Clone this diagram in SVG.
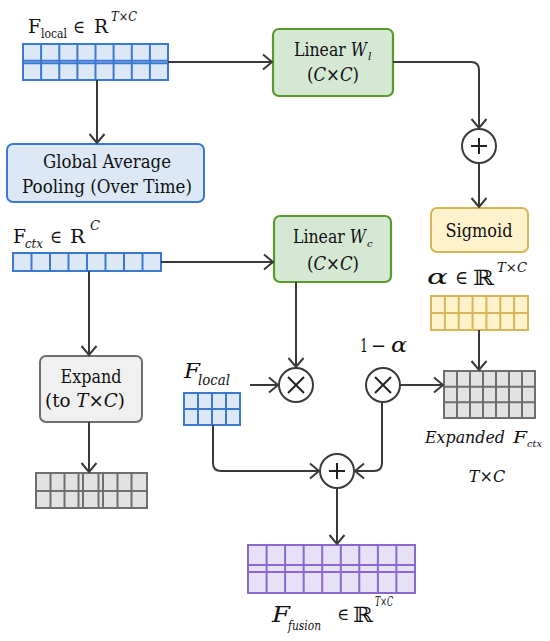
<svg xmlns="http://www.w3.org/2000/svg" width="550" height="641" viewBox="0 0 550 641" font-family="'DejaVu Serif', serif">
<style>
text{fill:#111;}
.it{font-style:italic;}
.lbl{font-size:18px;}
.con{fill:none;stroke:#3a3a3a;stroke-width:2;}
.op{fill:#fff;stroke:#3a3a3a;stroke-width:2;}
.opl{stroke:#222;stroke-width:2;fill:none;}
.blue{fill:#dce8f6;stroke:#3a78d2;stroke-width:2;}
.bluel{stroke:#3a78d2;stroke-width:2;fill:none;}
.green{fill:#d5e8d4;stroke:#5a9a2c;stroke-width:2.2;}
.yel{fill:#fff2cc;stroke:#d6b656;stroke-width:2;}
.yell{stroke:#d6b656;stroke-width:2;fill:none;}
.gray{fill:#e2e2e2;stroke:#6e6e6e;stroke-width:2;}
.grayl{stroke:#6e6e6e;stroke-width:2;fill:none;}
.gbox{fill:#f0f0f0;stroke:#6e6e6e;stroke-width:2;}
.pur{fill:#e7e0f7;stroke:#8a68d0;stroke-width:2;}
.purl{stroke:#8a68d0;stroke-width:2;fill:none;}
</style>
<defs>
<marker id="arr" markerUnits="userSpaceOnUse" markerWidth="14" markerHeight="18" refX="11" refY="9" orient="auto">
<path d="M2,1.5 L11,9 L2,16.5" fill="none" stroke="#3a3a3a" stroke-width="2"/>
</marker>
</defs>

<g id="flocal-input">
<text x="28" y="33" font-size="18" textLength="13" lengthAdjust="spacingAndGlyphs">F</text>
<text x="41" y="38" font-size="12" textLength="26" lengthAdjust="spacingAndGlyphs">local</text>
<text x="73" y="33" font-size="18" textLength="12" lengthAdjust="spacingAndGlyphs">∈</text>
<text x="94" y="33" font-size="18" textLength="14" lengthAdjust="spacingAndGlyphs">R</text>
<text x="111" y="21" font-size="12" class="it" textLength="26" lengthAdjust="spacingAndGlyphs">T×C</text>
<rect class="blue" x="23" y="44" width="145" height="36"/>
<path class="bluel" d="M41.1,44V80M59.3,44V80M77.4,44V80M95.5,44V80M113.6,44V80M131.8,44V80M149.9,44V80M23,60.7H168M23,63.3H168"/>
</g>

<g id="gap">
<rect class="blue" x="7" y="144" width="197" height="58" rx="6"/>
<text class="lbl" x="107" y="168" text-anchor="middle" textLength="128" lengthAdjust="spacingAndGlyphs">Global Average</text>
<text class="lbl" x="107" y="193" text-anchor="middle" textLength="170" lengthAdjust="spacingAndGlyphs">Pooling (Over Time)</text>
</g>

<g id="linear-wl">
<rect class="green" x="273" y="29" width="120" height="67" rx="6"/>
<text class="lbl" x="294" y="56" textLength="73" lengthAdjust="spacingAndGlyphs">Linear <tspan class="it">W</tspan></text>
<text class="it" x="368" y="60" font-size="11">l</text>
<text class="lbl" x="307" y="81" textLength="52" lengthAdjust="spacingAndGlyphs">(<tspan class="it">C</tspan>×<tspan class="it">C</tspan>)</text>
</g>

<g id="add1">
<circle class="op" cx="479" cy="146" r="17"/>
<path class="opl" d="M471,146H487M479,138V154"/>
</g>

<g id="sigmoid">
<rect class="yel" x="431" y="208" width="97" height="44" rx="6"/>
<text class="lbl" x="479" y="237" text-anchor="middle" textLength="67" lengthAdjust="spacingAndGlyphs">Sigmoid</text>
</g>

<g id="alpha">
<text x="427" y="284" font-size="21" class="it" textLength="21" lengthAdjust="spacingAndGlyphs">α</text>
<text x="455" y="284" font-size="19" textLength="13" lengthAdjust="spacingAndGlyphs">∈</text>
<text x="473" y="285" font-size="21" textLength="21" lengthAdjust="spacingAndGlyphs">ℝ</text>
<text x="497" y="272" font-size="13" class="it" textLength="30" lengthAdjust="spacingAndGlyphs">T×C</text>
<rect class="yel" x="431" y="296" width="97" height="34"/>
<path class="yell" d="M444.9,296V330M458.7,296V330M472.6,296V330M486.4,296V330M500.3,296V330M514.1,296V330M431,313H528"/>
</g>

<g id="fctx-input">
<text x="13" y="243" font-size="18" textLength="13" lengthAdjust="spacingAndGlyphs">F</text>
<text x="25" y="248" font-size="12" class="it" textLength="18" lengthAdjust="spacingAndGlyphs">ctx</text>
<text x="50" y="243" font-size="18" textLength="12" lengthAdjust="spacingAndGlyphs">∈</text>
<text x="70" y="243" font-size="18" textLength="15" lengthAdjust="spacingAndGlyphs">R</text>
<text x="90" y="230" font-size="13" class="it" textLength="10" lengthAdjust="spacingAndGlyphs">C</text>
<rect class="blue" x="13" y="253" width="148" height="18"/>
<path class="bluel" d="M31.5,253V271M50,253V271M68.5,253V271M87,253V271M105.5,253V271M124,253V271M142.5,253V271"/>
</g>

<g id="linear-wc">
<rect class="green" x="274" y="216" width="117" height="66" rx="6"/>
<text class="lbl" x="293" y="243" textLength="73" lengthAdjust="spacingAndGlyphs">Linear <tspan class="it">W</tspan></text>
<text class="it" x="367" y="247" font-size="10">c</text>
<text class="lbl" x="307" y="270" textLength="52" lengthAdjust="spacingAndGlyphs">(<tspan class="it">C</tspan>×<tspan class="it">C</tspan>)</text>
</g>

<g id="expand">
<rect class="gbox" x="40" y="356" width="102" height="66" rx="6"/>
<text class="lbl" x="91" y="383" text-anchor="middle" textLength="61" lengthAdjust="spacingAndGlyphs">Expand</text>
<text class="lbl" x="45" y="407" textLength="80" lengthAdjust="spacingAndGlyphs">(to <tspan class="it">T</tspan>×<tspan class="it">C</tspan>)</text>
</g>

<g id="expanded-left">
<rect class="gray" x="36" y="473" width="111" height="35"/>
<path class="grayl" d="M50.5,473V508M64.5,473V508M78.5,473V508M83,473V508M98.5,473V508M103,473V508M117.5,473V508M131.5,473V508M36,491H147"/>
</g>

<g id="flocal-small">
<text x="184" y="378" font-size="21" class="it" textLength="16" lengthAdjust="spacingAndGlyphs">F</text>
<text x="198" y="385" font-size="14" class="it" textLength="32" lengthAdjust="spacingAndGlyphs">local</text>
<rect class="blue" x="184" y="393" width="56" height="32"/>
<path class="bluel" d="M198,393V425M212,393V425M226,393V425M184,409H240"/>
</g>

<g id="mul1">
<circle class="op" cx="296" cy="385" r="17"/>
<path class="opl" d="M288,377L304,393M304,377L288,393"/>
</g>

<g id="mul2">
<circle class="op" cx="383" cy="385" r="17"/>
<path class="opl" d="M375,377L391,393M391,377L375,393"/>
<text x="360" y="352" font-size="19" textLength="8" lengthAdjust="spacingAndGlyphs">1</text>
<text x="371" y="352" font-size="19" textLength="15" lengthAdjust="spacingAndGlyphs">−</text>
<text x="391" y="352" font-size="20" class="it" textLength="16" lengthAdjust="spacingAndGlyphs">α</text>
</g>

<g id="expanded-ctx">
<rect class="gray" x="444" y="371" width="91" height="47"/>
<path class="grayl" d="M457,371V418M470,371V418M483,371V418M496,371V418M509,371V418M522,371V418M444,386.7H535M444,402.3H535"/>
<text x="425" y="443" font-size="17" class="it" textLength="80" lengthAdjust="spacingAndGlyphs">Expanded</text>
<text x="513" y="443" font-size="17" class="it" textLength="14" lengthAdjust="spacingAndGlyphs">F</text>
<text x="527" y="447" font-size="10" class="it" textLength="15" lengthAdjust="spacingAndGlyphs">ctx</text>
<text x="487" y="482" font-size="16" text-anchor="middle"><tspan class="it">T</tspan>×<tspan class="it">C</tspan></text>
</g>

<g id="add2">
<circle class="op" cx="337" cy="471" r="17"/>
<path class="opl" d="M329,471H345M337,463V479"/>
</g>

<g id="fusion">
<rect class="pur" x="248" y="545" width="167" height="48"/>
<path class="purl" d="M266.6,545V593M285.1,545V593M303.7,545V593M322.2,545V593M340.8,545V593M359.3,545V593M377.9,545V593M396.4,545V593M248,565H415M248,572H415"/>
<text x="272" y="622" font-size="23" class="it" textLength="18" lengthAdjust="spacingAndGlyphs">F</text>
<text x="288" y="630" font-size="13" class="it" textLength="33" lengthAdjust="spacingAndGlyphs">fusion</text>
<text x="337" y="620" font-size="17" textLength="12" lengthAdjust="spacingAndGlyphs">∈</text>
<text x="353" y="622" font-size="21" textLength="20" lengthAdjust="spacingAndGlyphs">ℝ</text>
<text x="375" y="606" font-size="12" class="it" textLength="18" lengthAdjust="spacingAndGlyphs">T×C</text>
</g>

<g id="connectors">
<path class="con" marker-end="url(#arr)" d="M168,62H272"/>
<path class="con" marker-end="url(#arr)" d="M97,80V143"/>
<path class="con" marker-end="url(#arr)" d="M393,62H471Q479,62 479,70V128"/>
<path class="con" marker-end="url(#arr)" d="M479,163V207"/>
<path class="con" marker-end="url(#arr)" d="M161,262H273"/>
<path class="con" marker-end="url(#arr)" d="M89,271V355"/>
<path class="con" marker-end="url(#arr)" d="M296,282V367"/>
<path class="con" marker-end="url(#arr)" d="M250,385H278"/>
<path class="con" marker-end="url(#arr)" d="M479,330V370"/>
<path class="con" marker-end="url(#arr)" d="M400,385H443"/>
<path class="con" marker-end="url(#arr)" d="M89,422V472"/>
<path class="con" marker-end="url(#arr)" d="M213,425V463Q213,471 221,471H319"/>
<path class="con" marker-end="url(#arr)" d="M382,402V463Q382,471 374,471H355"/>
<path class="con" marker-end="url(#arr)" d="M337,488V544"/>
</g>
</svg>
